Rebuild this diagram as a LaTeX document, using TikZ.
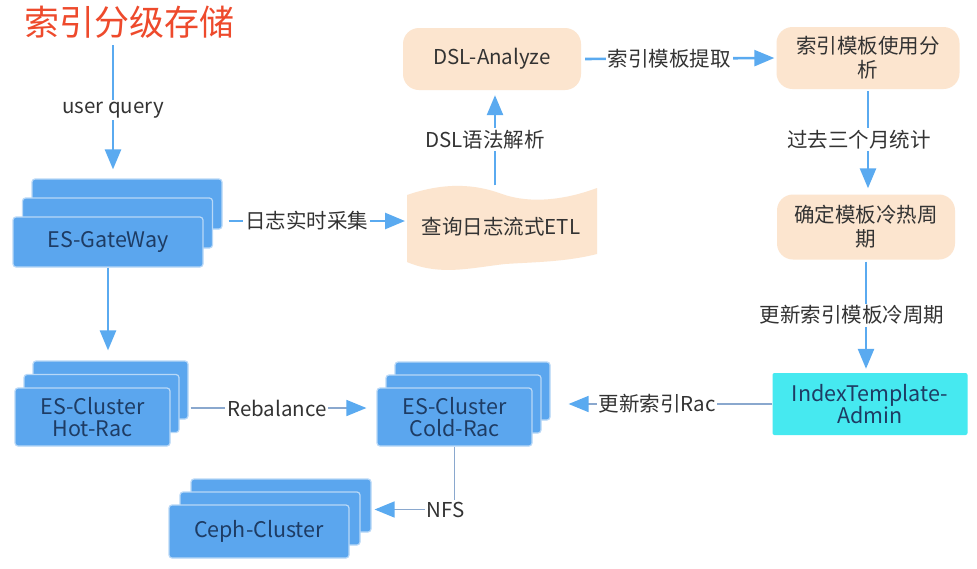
\documentclass[tikz,border=0pt]{standalone}
\usepackage{fontspec}
\setmainfont{Noto Sans CJK SC}
\usetikzlibrary{arrows.meta,calc}
\definecolor{ablue}{HTML}{5AAAF0}
\definecolor{agray}{HTML}{8AA8CE}
\definecolor{stkfill}{HTML}{5BA6EE}
\definecolor{stkline}{HTML}{B8D8F7}
\definecolor{stktext}{HTML}{1E3C64}
\definecolor{peach}{HTML}{FCE5CF}
\definecolor{cyanbox}{HTML}{46E9F0}
\definecolor{txt}{HTML}{333333}
\definecolor{titlered}{HTML}{EE4A2C}
\newcommand\mystack[8]{%
  \node[stklayer, minimum width=#4pt, minimum height=#5pt] (#1-b) at ({#2+2*(#6)},{#3+2*(#7)}) {};
  \node[stklayer, minimum width=#4pt, minimum height=#5pt] (#1-m) at ({#2+#6},{#3+#7}) {};
  \node[stklayer, minimum width=#4pt, minimum height=#5pt, align=center] (#1) at (#2,#3) {#8};
}
\begin{document}
\begin{tikzpicture}[x=1pt,y=-1pt,
  base/.style={font=\fontsize{20.5}{23}\selectfont, text=txt},
  stklayer/.style={base, font=\fontsize{21.5}{23}\selectfont, draw=stkline, line width=1.2pt, fill=stkfill, rounded corners=3pt, text=stktext, inner sep=0pt},
  pbox/.style={base, fill=peach, rounded corners=16pt, align=center, inner sep=0pt},
  ibox/.style={base, font=\fontsize{21.5}{23}\selectfont, fill=cyanbox, rounded corners=2pt, align=center, inner sep=0pt, text=stktext},
  lbl/.style={base, fill=white, inner sep=2pt},
  arr/.style={draw=ablue, line width=2.6pt, -{Triangle[length=20pt,width=16pt]}},
  thin/.style={draw=agray, line width=1.6pt, -{Triangle[length=20pt,width=16pt,color=ablue]}},
]
\useasboundingbox (0,0) rectangle (977,568);
\fill[white] (0,0) rectangle (977,568);

% title
\node[font=\fontsize{35}{38}\selectfont, text=titlered] (title) at (129,22) {索引分级存储};

% stacks
\mystack{gw}{108}{242}{190}{50}{9.5}{-19}{ES-GateWay}
\mystack{hot}{92.5}{417}{155}{58}{9}{-13.5}{ES-Cluster\\[-1pt]Hot-Rac}
\mystack{cold}{454.5}{417}{155}{58}{9}{-13}{ES-Cluster\\[-1pt]Cold-Rac}
\mystack{ceph}{259}{531.5}{180}{53}{11}{-13}{Ceph-Cluster}

% peach boxes
\node[pbox, minimum width=178pt, minimum height=62pt] (dsl) at (492,59) {DSL-Analyze};
\node[pbox, minimum width=183pt, minimum height=62pt] (use) at (868,58) {索引模板使用分\\[1pt]析};
\node[pbox, minimum width=178pt, minimum height=65pt] (det) at (866,227) {确定模板冷热周\\[1pt]期};
\node[ibox, minimum width=195pt, minimum height=62pt] (ita) at (870,404) {IndexTemplate-\\[-1pt]Admin};

% ETL tape shape
\fill[peach] (407,195) .. controls (445,182) and (475,184) .. (502,194)
  .. controls (530,204) and (565,200) .. (597,188) -- (597,254)
  .. controls (565,262) and (535,262) .. (505,264)
  .. controls (470,268) and (440,276) .. (407,262) -- cycle;
\node[base, minimum width=190pt, minimum height=75pt, inner sep=0pt] (etl) at (501,227) {查询日志流式ETL};
\coordinate (etlin) at (405,221);
\coordinate (uq) at (113,45);

% connectors
\draw[arr, shorten >=9pt] (uq) -- (uq |- gw-b.north) node[lbl, pos=0.49] {user query};
\draw[arr, shorten >=10pt] (gw.south) -- (gw.south |- hot-b.north);
\draw[arr, shorten <=6pt] (gw-b.east |- etlin) -- (etlin) node[lbl, pos=0.46] {日志实时采集};
\draw[arr, shorten <=4pt, shorten >=5pt] ([xshift=-6pt]etl.north) -- ([xshift=-6pt]etl.north |- dsl.south) node[lbl, pos=0.5, xshift=-10pt] {DSL语法解析};
\draw[arr, shorten <=4pt, shorten >=2pt] (dsl.east) -- (use.west) node[lbl, pos=0.45] {索引模板提取};
\draw[arr, shorten <=2pt, shorten >=6pt] (use.south) -- (use.south |- det.north) node[lbl, pos=0.48, xshift=-9pt] {过去三个月统计};
\draw[arr, shorten <=2pt, shorten >=4pt] (det.south) -- (det.south |- ita.north) node[lbl, pos=0.49, xshift=-14pt] {更新索引模板冷周期};
\draw[thin, shorten >=18pt] (ita.west) -- (cold-b.east |- ita.west) node[lbl, pos=0.52] {更新索引Rac};
\draw[thin, shorten <=2pt, shorten >=10pt] ($(hot-b.east |- hot.center)+(0,-9)$) -- ($(cold.west)+(0,-9)$) node[lbl, pos=0.47] {Rebalance};
\draw[thin, shorten >=3pt] (cold.south) |- ($(ceph-b.east)+(0,4)$) node[lbl, pos=0.5, xshift=-9pt] {NFS};
\end{tikzpicture}
\end{document}
